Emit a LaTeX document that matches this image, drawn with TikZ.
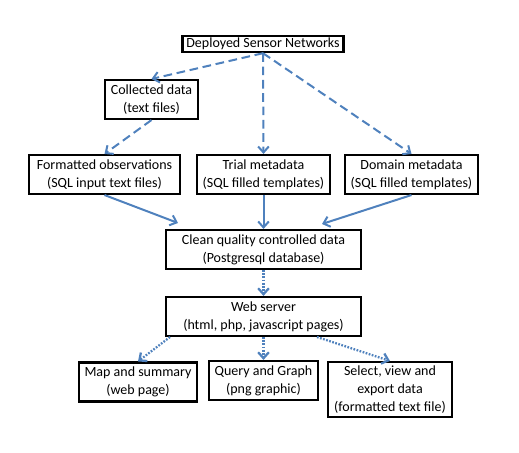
\documentclass[tikz,border=0pt]{standalone}
\usepackage{fontspec}
\setmainfont{Carlito}
\usetikzlibrary{arrows.meta,positioning}
\definecolor{flowblue}{RGB}{79,129,189}

\begin{document}
\begin{tikzpicture}[
            x=0.75pt,y=-0.75pt,
            box/.style={draw,rectangle,line width=1.8pt,align=center,inner sep=1pt,
                        font=\fontsize{10.5}{13.5}\selectfont},
            oneline/.style={box,minimum height=12pt},
            twoline/.style={box,minimum height=29pt},
            threeline/.style={box,minimum height=41pt},
            flow/.style={draw=flowblue,line width=1.5pt,-{Straight Barb[length=4.5pt,width=8pt]}},
            dashedflow/.style={flow,dash pattern=on 6.5pt off 3.5pt},
            dottedflow/.style={flow,line width=1.7pt,dash pattern=on 1.3pt off 1.1pt}
          ]
          \useasboundingbox (0,0) rectangle (519,453);

          \node[oneline,minimum width=121pt] (deployed) at (263,44) {Deployed Sensor Networks};
          \node[twoline,minimum width=69.5pt] (collected) at (151.5,99.5) {Collected data\\(text files)};

          %middle row
          \node[twoline,minimum width=99.5pt] (trial) at (263.5,174.5) {Trial metadata\\(SQL filled templates)};
          \node[left of = trial,twoline,minimum width=113pt,node distance=119.25pt] (formatted) {Formatted observations\\(SQL input text files)};
          \node[right of = trial,twoline,minimum width=99.5pt,node distance=111pt] (domain) {Domain metadata\\(SQL filled templates)};

          \node[below of = trial,twoline,minimum width=146pt,node distance=56.25pt] (clean) {Clean quality controlled data\\(Postgresql database)};
          \node[below of = clean,twoline,minimum width=146pt,node distance=50.25pt] (web) {Web server\\(html, php, javascript pages)};

          %outputs
          \node[below of = web,twoline,minimum width=81.5pt,node distance=48pt] (query) {Query and Graph\\(png graphic)};
          \node[twoline,minimum width=88.2pt] (map) at (138,382) {Map and summary\\(web page)};
          \node[threeline,minimum width=92.7pt] (select) at (390,389.5) {Select, view and\\export data\\(formatted text file)};

          \coordinate (cleanleft) at (178,223);
          \coordinate (cleanright) at (322,224);
          \coordinate (webleft) at (170,337);
          \coordinate (webright) at (317,337);

          \path[dashedflow] (deployed.south) -- (collected.north);
          \path[dashedflow] (deployed.south) -- (trial.north);
          \path[dashedflow] (deployed.south) -- (domain.north);
          \path[dashedflow] (collected.south) -- (formatted.north);

          \path[flow] (formatted.south) -- (cleanleft);
          \path[flow] (trial.south) -- (clean.north);
          \path[flow] (domain.south) -- (cleanright);

          \path[dottedflow] (clean.south) -- (web.north);
          \path[dottedflow] (webleft) -- (map.north);
          \path[dottedflow] (web.south) -- (query.north);
          \path[dottedflow] (webright) -- (select.north);
      \end{tikzpicture}
\end{document}
